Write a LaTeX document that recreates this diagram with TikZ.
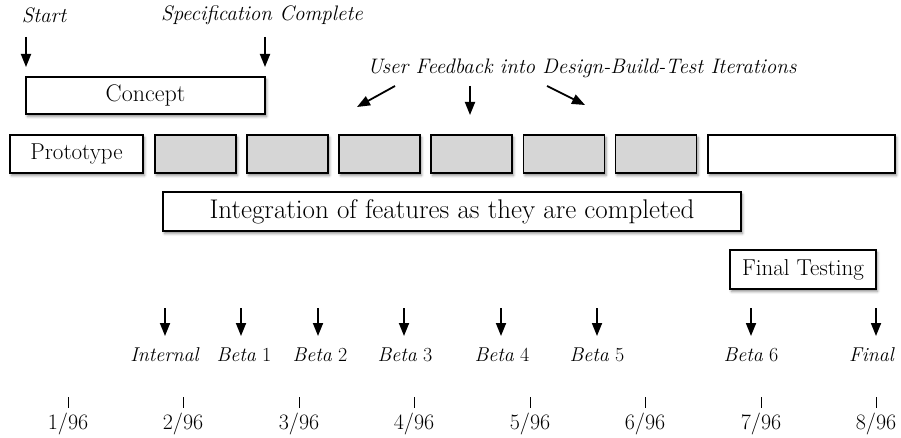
\documentclass[tikz,border=0pt]{standalone}
\usetikzlibrary{arrows.meta,shadows.blur}
\definecolor{boxgray}{HTML}{D6D6D6}
\tikzset{
  phase/.style={draw=black, line width=1.4pt, fill=white, inner sep=0pt,
    minimum height=38pt, blur shadow={shadow xshift=1.5pt, shadow yshift=-2.5pt,
    shadow blur radius=2.5pt, shadow opacity=45}},
  iter/.style={phase, fill=boxgray, minimum width=81pt},
  boxtext/.style={font=\fontsize{23}{26}\selectfont},
  milestone/.style={font=\fontsize{21}{24}\selectfont\itshape, inner sep=0pt},
  release/.style={font=\fontsize{20}{22}\selectfont, inner sep=0pt},
  date/.style={font=\fontsize{22}{24}\selectfont, inner sep=0pt},
  pointer/.style={line width=1.8pt, -{Triangle[length=13pt,width=10pt]}},
  tick/.style={line width=1pt}
}
\begin{document}
\begin{tikzpicture}[x=1pt,y=-1pt]
\useasboundingbox (0,0) rectangle (901,438);

% milestone captions
\node[milestone] (start) at (44,15) {Start};
\node[milestone] (spec) at (262,15) {Specification Complete};
\node[milestone] (feedback) at (582,68) {User Feedback into Design-Build-Test Iterations};

% phase boxes
\node[phase, boxtext, minimum width=239pt, minimum height=37pt, font=\fontsize{24}{26}\selectfont] (concept) at (145.5,95.5) {Concept};
\node[phase, boxtext, minimum width=133pt] (proto) at (76.5,154) {Prototype};
\node[iter] (it1) at (195.5,154) {};
\node[iter] (it2) at (287.5,154) {};
\node[iter] (it3) at (379.5,154) {};
\node[iter] (it4) at (471.5,154) {};
\node[iter] (it5) at (564,154) {};
\node[iter] (it6) at (656,154) {};
\node[phase, minimum width=187pt] (last) at (801.5,154) {};
\node[phase, minimum width=578pt, minimum height=39pt, font=\fontsize{27}{30}\selectfont] (integ) at (452,211.5) {Integration of features as they are completed};
\node[phase, boxtext, minimum width=146pt, minimum height=39pt] (final) at (803,269.5) {Final Testing};

% milestone pointers
\coordinate (startA) at (26,37);  \coordinate (startB) at (26,67);
\coordinate (specA) at (265,37);  \coordinate (specB) at (265,67);
\draw[pointer] (startA) -- (startB);
\draw[pointer] (specA) -- (specB);
\coordinate (fbA1) at (395,86);  \coordinate (fbB1) at (357,107);
\coordinate (fbA2) at (470,86);  \coordinate (fbB2) at (470,115);
\coordinate (fbA3) at (547,86);  \coordinate (fbB3) at (585,105);
\draw[pointer] (fbA1) -- (fbB1);
\draw[pointer] (fbA2) -- (fbB2);
\draw[pointer] (fbA3) -- (fbB3);

% releases
\foreach \x/\lab/\nm in {165/{\textit{Internal}}/r0, 244/{\textit{Beta} 1}/r1, 320/{\textit{Beta} 2}/r2,
    405/{\textit{Beta} 3}/r3, 502/{\textit{Beta} 4}/r4, 597/{\textit{Beta} 5}/r5,
    751/{\textit{Beta} 6}/r6, 872/{\textit{Final}}/r7}{
  \node[release] (\nm) at (\x,355) {\lab};
}
\foreach \x/\nm in {165/r0, 241/r1, 318/r2, 404/r3, 501/r4, 597/r5, 751/r6, 876/r7}{
  \coordinate (\nm top) at (\x,308);
  \coordinate (\nm tip) at (\x,336);
  \draw[pointer] (\nm top) -- (\nm tip);
}

% time axis
\foreach \x/\lab/\nm in {68/1/d1, 183/2/d2, 299/3/d3, 414/4/d4, 530/5/d5, 645/6/d6, 761/7/d7, 876/8/d8}{
  \node[date] (\nm) at (\x,424) {\lab/96};
  \coordinate (\nm a) at (\x,397);
  \coordinate (\nm b) at (\x,408);
  \draw[tick] (\nm a) -- (\nm b);
}
\end{tikzpicture}
\end{document}
